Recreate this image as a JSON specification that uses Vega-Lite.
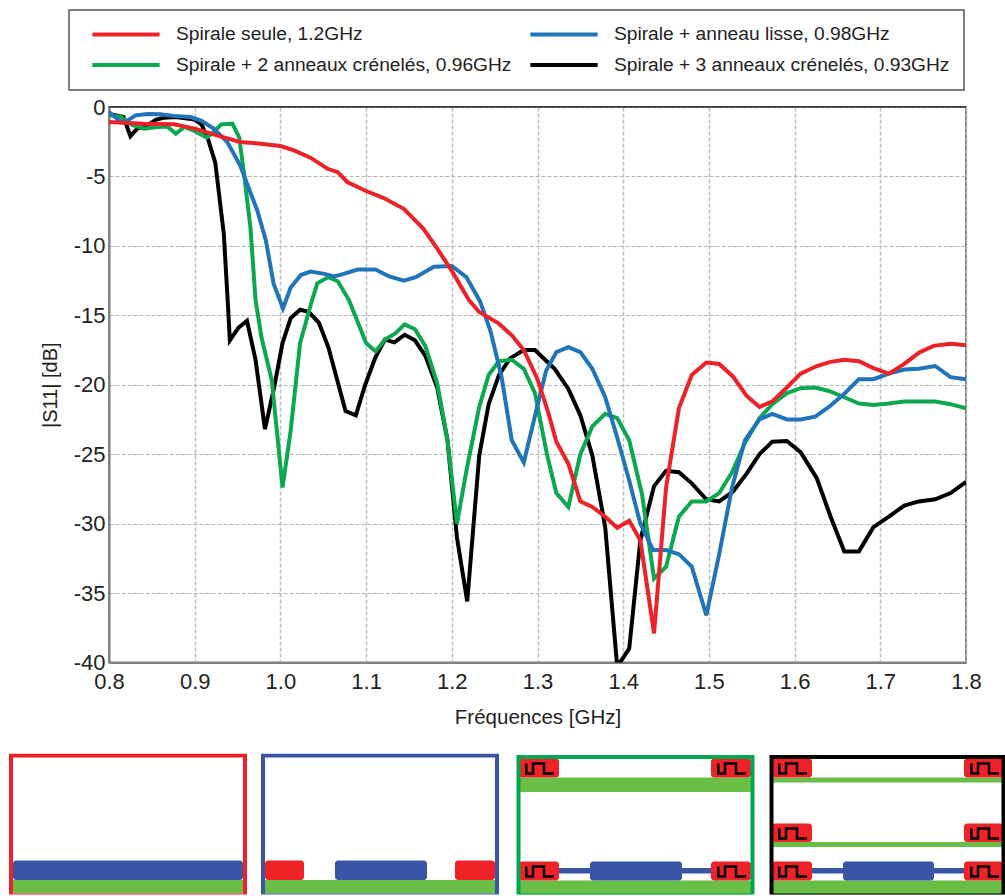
{
"$schema":"https://vega.github.io/schema/vega-lite/v6.json",
"padding":{"left":9,"top":9,"right":0,"bottom":0},
"bounds":"flush",
"spacing":646.5,
"config":{"view":{"stroke":null},"font":"Liberation Sans","legend":{"strokeWidth":1.5}},
"datasets":{
"curves":[
{"s":"K","f":0.8,"v":-0.5},{"s":"K","f":0.817,"v":-0.72},{"s":"K","f":0.825,"v":-2.1},{"s":"K","f":0.833,"v":-1.56},{"s":"K","f":0.843,"v":-1.4},{"s":"K","f":0.855,"v":-0.9},{"s":"K","f":0.864,"v":-0.77},{"s":"K","f":0.878,"v":-0.72},{"s":"K","f":0.9,"v":-0.9},{"s":"K","f":0.908,"v":-1.25},{"s":"K","f":0.916,"v":-2.4},{"s":"K","f":0.924,"v":-4},{"s":"K","f":0.934,"v":-9.15},{"s":"K","f":0.939,"v":-14.5},{"s":"K","f":0.941,"v":-16.8},{"s":"K","f":0.951,"v":-15.9},{"s":"K","f":0.961,"v":-15.4},{"s":"K","f":0.971,"v":-18.2},{"s":"K","f":0.982,"v":-23.2},{"s":"K","f":0.992,"v":-20.4},{"s":"K","f":1.0025,"v":-17},{"s":"K","f":1.012,"v":-15.2},{"s":"K","f":1.023,"v":-14.6},{"s":"K","f":1.033,"v":-14.75},{"s":"K","f":1.045,"v":-15.55},{"s":"K","f":1.056,"v":-17.3},{"s":"K","f":1.076,"v":-21.9},{"s":"K","f":1.088,"v":-22.2},{"s":"K","f":1.099,"v":-20},{"s":"K","f":1.111,"v":-18},{"s":"K","f":1.122,"v":-16.75},{"s":"K","f":1.133,"v":-16.95},{"s":"K","f":1.145,"v":-16.4},{"s":"K","f":1.157,"v":-16.8},{"s":"K","f":1.169,"v":-17.9},{"s":"K","f":1.183,"v":-20.2},{"s":"K","f":1.195,"v":-24},{"s":"K","f":1.206,"v":-31},{"s":"K","f":1.218,"v":-35.6},{"s":"K","f":1.232,"v":-25.1},{"s":"K","f":1.243,"v":-21.4},{"s":"K","f":1.255,"v":-19.3},{"s":"K","f":1.268,"v":-18.1},{"s":"K","f":1.284,"v":-17.5},{"s":"K","f":1.297,"v":-17.5},{"s":"K","f":1.32,"v":-18.85},{"s":"K","f":1.336,"v":-20.3},{"s":"K","f":1.35,"v":-22.2},{"s":"K","f":1.364,"v":-25.1},{"s":"K","f":1.379,"v":-30.25},{"s":"K","f":1.393,"v":-40.3},{"s":"K","f":1.407,"v":-39},{"s":"K","f":1.42,"v":-31.2},{"s":"K","f":1.436,"v":-27.3},{"s":"K","f":1.45,"v":-26.2},{"s":"K","f":1.465,"v":-26.3},{"s":"K","f":1.48,"v":-27.1},{"s":"K","f":1.497,"v":-28.25},{"s":"K","f":1.512,"v":-28.4},{"s":"K","f":1.528,"v":-27.7},{"s":"K","f":1.544,"v":-26.4},{"s":"K","f":1.559,"v":-25},{"s":"K","f":1.574,"v":-24.1},{"s":"K","f":1.591,"v":-24.05},{"s":"K","f":1.607,"v":-24.85},{"s":"K","f":1.626,"v":-26.75},{"s":"K","f":1.642,"v":-29.5},{"s":"K","f":1.658,"v":-32},{"s":"K","f":1.675,"v":-32},{"s":"K","f":1.692,"v":-30.25},{"s":"K","f":1.71,"v":-29.5},{"s":"K","f":1.728,"v":-28.7},{"s":"K","f":1.745,"v":-28.4},{"s":"K","f":1.764,"v":-28.25},{"s":"K","f":1.782,"v":-27.8},{"s":"K","f":1.8,"v":-27},
{"s":"G","f":0.8,"v":-0.6},{"s":"G","f":0.814,"v":-0.72},{"s":"G","f":0.827,"v":-1.3},{"s":"G","f":0.841,"v":-1.56},{"s":"G","f":0.856,"v":-1.44},{"s":"G","f":0.868,"v":-1.4},{"s":"G","f":0.878,"v":-1.92},{"s":"G","f":0.888,"v":-1.44},{"s":"G","f":0.9,"v":-1.73},{"s":"G","f":0.914,"v":-2.2},{"s":"G","f":0.922,"v":-1.8},{"s":"G","f":0.931,"v":-1.25},{"s":"G","f":0.944,"v":-1.2},{"s":"G","f":0.952,"v":-2.2},{"s":"G","f":0.958,"v":-5},{"s":"G","f":0.965,"v":-8.65},{"s":"G","f":0.971,"v":-13.9},{"s":"G","f":0.978,"v":-16.6},{"s":"G","f":0.99,"v":-19.7},{"s":"G","f":1.0025,"v":-27.4},{"s":"G","f":1.012,"v":-23.3},{"s":"G","f":1.023,"v":-17},{"s":"G","f":1.037,"v":-13.9},{"s":"G","f":1.043,"v":-12.7},{"s":"G","f":1.056,"v":-12.25},{"s":"G","f":1.067,"v":-12.55},{"s":"G","f":1.08,"v":-13.9},{"s":"G","f":1.1,"v":-17},{"s":"G","f":1.111,"v":-17.6},{"s":"G","f":1.122,"v":-16.75},{"s":"G","f":1.134,"v":-16.3},{"s":"G","f":1.145,"v":-15.65},{"s":"G","f":1.157,"v":-16},{"s":"G","f":1.169,"v":-17.2},{"s":"G","f":1.183,"v":-19.9},{"s":"G","f":1.195,"v":-24},{"s":"G","f":1.206,"v":-30},{"s":"G","f":1.218,"v":-25.9},{"s":"G","f":1.232,"v":-21.6},{"s":"G","f":1.243,"v":-19.3},{"s":"G","f":1.255,"v":-18.3},{"s":"G","f":1.27,"v":-18.2},{"s":"G","f":1.284,"v":-18.85},{"s":"G","f":1.297,"v":-20.6},{"s":"G","f":1.311,"v":-25},{"s":"G","f":1.322,"v":-27.8},{"s":"G","f":1.336,"v":-28.8},{"s":"G","f":1.35,"v":-25},{"s":"G","f":1.364,"v":-23},{"s":"G","f":1.379,"v":-22.1},{"s":"G","f":1.393,"v":-22.4},{"s":"G","f":1.407,"v":-24},{"s":"G","f":1.422,"v":-27.9},{"s":"G","f":1.436,"v":-33.95},{"s":"G","f":1.45,"v":-33.1},{"s":"G","f":1.465,"v":-29.5},{"s":"G","f":1.48,"v":-28.4},{"s":"G","f":1.497,"v":-28.4},{"s":"G","f":1.512,"v":-27.8},{"s":"G","f":1.527,"v":-26.3},{"s":"G","f":1.542,"v":-24.2},{"s":"G","f":1.559,"v":-22.4},{"s":"G","f":1.574,"v":-21.4},{"s":"G","f":1.591,"v":-20.6},{"s":"G","f":1.607,"v":-20.25},{"s":"G","f":1.624,"v":-20.2},{"s":"G","f":1.64,"v":-20.45},{"s":"G","f":1.658,"v":-20.9},{"s":"G","f":1.675,"v":-21.35},{"s":"G","f":1.692,"v":-21.45},{"s":"G","f":1.71,"v":-21.35},{"s":"G","f":1.728,"v":-21.2},{"s":"G","f":1.745,"v":-21.2},{"s":"G","f":1.764,"v":-21.2},{"s":"G","f":1.782,"v":-21.4},{"s":"G","f":1.8,"v":-21.7},
{"s":"B","f":0.8,"v":-0.36},{"s":"B","f":0.814,"v":-1.08},{"s":"B","f":0.821,"v":-1},{"s":"B","f":0.831,"v":-0.6},{"s":"B","f":0.845,"v":-0.5},{"s":"B","f":0.86,"v":-0.53},{"s":"B","f":0.876,"v":-0.65},{"s":"B","f":0.895,"v":-0.72},{"s":"B","f":0.908,"v":-1},{"s":"B","f":0.922,"v":-1.56},{"s":"B","f":0.938,"v":-2.52},{"s":"B","f":0.953,"v":-4.2},{"s":"B","f":0.973,"v":-7.45},{"s":"B","f":0.983,"v":-9.6},{"s":"B","f":0.992,"v":-12.7},{"s":"B","f":1.003,"v":-14.5},{"s":"B","f":1.012,"v":-13},{"s":"B","f":1.024,"v":-12.1},{"s":"B","f":1.035,"v":-11.85},{"s":"B","f":1.05,"v":-12},{"s":"B","f":1.063,"v":-12.2},{"s":"B","f":1.075,"v":-12},{"s":"B","f":1.09,"v":-11.7},{"s":"B","f":1.111,"v":-11.7},{"s":"B","f":1.127,"v":-12.2},{"s":"B","f":1.144,"v":-12.5},{"s":"B","f":1.158,"v":-12.25},{"s":"B","f":1.179,"v":-11.5},{"s":"B","f":1.2,"v":-11.45},{"s":"B","f":1.217,"v":-12.25},{"s":"B","f":1.233,"v":-14},{"s":"B","f":1.245,"v":-16.1},{"s":"B","f":1.258,"v":-19.4},{"s":"B","f":1.27,"v":-24},{"s":"B","f":1.284,"v":-25.6},{"s":"B","f":1.3,"v":-21.5},{"s":"B","f":1.31,"v":-19},{"s":"B","f":1.322,"v":-17.65},{"s":"B","f":1.336,"v":-17.3},{"s":"B","f":1.35,"v":-17.65},{"s":"B","f":1.364,"v":-18.85},{"s":"B","f":1.379,"v":-20.9},{"s":"B","f":1.393,"v":-23.8},{"s":"B","f":1.407,"v":-26.9},{"s":"B","f":1.42,"v":-30},{"s":"B","f":1.435,"v":-31.9},{"s":"B","f":1.45,"v":-31.9},{"s":"B","f":1.465,"v":-32.2},{"s":"B","f":1.48,"v":-33.1},{"s":"B","f":1.497,"v":-36.6},{"s":"B","f":1.512,"v":-32.2},{"s":"B","f":1.527,"v":-27.4},{"s":"B","f":1.542,"v":-24},{"s":"B","f":1.559,"v":-22.5},{"s":"B","f":1.574,"v":-22.1},{"s":"B","f":1.591,"v":-22.5},{"s":"B","f":1.607,"v":-22.5},{"s":"B","f":1.624,"v":-22.3},{"s":"B","f":1.64,"v":-21.6},{"s":"B","f":1.658,"v":-20.65},{"s":"B","f":1.675,"v":-19.6},{"s":"B","f":1.692,"v":-19.6},{"s":"B","f":1.71,"v":-19.2},{"s":"B","f":1.728,"v":-18.9},{"s":"B","f":1.745,"v":-18.85},{"s":"B","f":1.764,"v":-18.65},{"s":"B","f":1.782,"v":-19.45},{"s":"B","f":1.8,"v":-19.6},
{"s":"R","f":0.8,"v":-1.08},{"s":"R","f":0.84,"v":-1.2},{"s":"R","f":0.876,"v":-1.25},{"s":"R","f":0.9,"v":-1.56},{"s":"R","f":0.926,"v":-2.04},{"s":"R","f":0.953,"v":-2.52},{"s":"R","f":0.977,"v":-2.64},{"s":"R","f":1,"v":-2.81},{"s":"R","f":1.016,"v":-3.12},{"s":"R","f":1.035,"v":-3.65},{"s":"R","f":1.055,"v":-4.45},{"s":"R","f":1.067,"v":-4.69},{"s":"R","f":1.078,"v":-5.4},{"s":"R","f":1.1,"v":-6.05},{"s":"R","f":1.12,"v":-6.54},{"s":"R","f":1.144,"v":-7.33},{"s":"R","f":1.167,"v":-8.77},{"s":"R","f":1.183,"v":-10.2},{"s":"R","f":1.2,"v":-11.8},{"s":"R","f":1.22,"v":-13.9},{"s":"R","f":1.232,"v":-14.76},{"s":"R","f":1.255,"v":-15.6},{"s":"R","f":1.27,"v":-16.44},{"s":"R","f":1.284,"v":-17.5},{"s":"R","f":1.3,"v":-19.6},{"s":"R","f":1.313,"v":-22.1},{"s":"R","f":1.322,"v":-24.1},{"s":"R","f":1.336,"v":-25.7},{"s":"R","f":1.35,"v":-28.4},{"s":"R","f":1.364,"v":-28.8},{"s":"R","f":1.379,"v":-29.5},{"s":"R","f":1.393,"v":-30.3},{"s":"R","f":1.407,"v":-29.8},{"s":"R","f":1.42,"v":-31.2},{"s":"R","f":1.436,"v":-37.9},{"s":"R","f":1.45,"v":-27.4},{"s":"R","f":1.465,"v":-21.7},{"s":"R","f":1.48,"v":-19.3},{"s":"R","f":1.497,"v":-18.4},{"s":"R","f":1.512,"v":-18.5},{"s":"R","f":1.528,"v":-19.4},{"s":"R","f":1.544,"v":-20.8},{"s":"R","f":1.559,"v":-21.6},{"s":"R","f":1.574,"v":-21.2},{"s":"R","f":1.591,"v":-20.2},{"s":"R","f":1.607,"v":-19.2},{"s":"R","f":1.626,"v":-18.65},{"s":"R","f":1.642,"v":-18.35},{"s":"R","f":1.658,"v":-18.2},{"s":"R","f":1.675,"v":-18.3},{"s":"R","f":1.692,"v":-18.8},{"s":"R","f":1.71,"v":-19.2},{"s":"R","f":1.728,"v":-18.5},{"s":"R","f":1.745,"v":-17.7},{"s":"R","f":1.762,"v":-17.2},{"s":"R","f":1.782,"v":-17.05},{"s":"R","f":1.8,"v":-17.15}
],
"parts":[
{"part":"frame","panel":"a","x":11,"x2":245,"y":757,"y2":897},
{"part":"frame","panel":"b","x":263,"x2":497,"y":757,"y2":897},
{"part":"frame","panel":"c","x":518.5,"x2":752.5,"y":758.5,"y2":897},
{"part":"frame","panel":"d","x":771.5,"x2":1003.5,"y":758.5,"y2":897},
{"part":"ground","panel":"a","x":13,"x2":243,"y":881.5,"y2":895},
{"part":"ground","panel":"b","x":265,"x2":495,"y":881.5,"y2":895},
{"part":"ground","panel":"c","x":519,"x2":751,"y":882,"y2":896},
{"part":"ground","panel":"c","x":519,"x2":751,"y":779,"y2":793.5},
{"part":"ground","panel":"d","x":772,"x2":1003,"y":882,"y2":896},
{"part":"ground","panel":"d","x":772,"x2":1003,"y":843.5,"y2":848.5},
{"part":"ground","panel":"d","x":772,"x2":1003,"y":779,"y2":784},
{"part":"feed","panel":"c","x":559,"x2":711,"y":869.5,"y2":875},
{"part":"feed","panel":"d","x":812,"x2":964,"y":869.5,"y2":875},
{"part":"patch","panel":"a","x":13,"x2":243,"y":862,"y2":881.5},
{"part":"patch","panel":"b","x":335,"x2":427,"y":862,"y2":881.5},
{"part":"patch","panel":"c","x":590,"x2":682,"y":863,"y2":882},
{"part":"patch","panel":"d","x":843,"x2":934,"y":863,"y2":882},
{"part":"ring","panel":"b","x":265,"x2":304,"y":862,"y2":881.5},
{"part":"ring","panel":"b","x":455,"x2":495,"y":862,"y2":881.5},
{"part":"ring","panel":"c","x":519,"x2":559,"y":760,"y2":779},
{"part":"ring","panel":"c","x":711,"x2":751,"y":760,"y2":779},
{"part":"ring","panel":"c","x":519,"x2":559,"y":863,"y2":882},
{"part":"ring","panel":"c","x":711,"x2":751,"y":863,"y2":882},
{"part":"ring","panel":"d","x":772,"x2":812,"y":760,"y2":779},
{"part":"ring","panel":"d","x":964,"x2":1003,"y":760,"y2":779},
{"part":"ring","panel":"d","x":772,"x2":812,"y":825,"y2":843.5},
{"part":"ring","panel":"d","x":964,"x2":1003,"y":825,"y2":843.5},
{"part":"ring","panel":"d","x":772,"x2":812,"y":863,"y2":882},
{"part":"ring","panel":"d","x":964,"x2":1003,"y":863,"y2":882}
],
"meander":[
{"id":1,"o":1,"x":526.3,"y":765},{"id":1,"o":2,"x":526.3,"y":775},{"id":1,"o":3,"x":533,"y":775},{"id":1,"o":4,"x":533,"y":765},{"id":1,"o":5,"x":544,"y":765},{"id":1,"o":6,"x":544,"y":775},{"id":1,"o":7,"x":554,"y":775},
{"id":2,"o":1,"x":718.3,"y":765},{"id":2,"o":2,"x":718.3,"y":775},{"id":2,"o":3,"x":725,"y":775},{"id":2,"o":4,"x":725,"y":765},{"id":2,"o":5,"x":736,"y":765},{"id":2,"o":6,"x":736,"y":775},{"id":2,"o":7,"x":746,"y":775},
{"id":3,"o":1,"x":526.3,"y":868},{"id":3,"o":2,"x":526.3,"y":878},{"id":3,"o":3,"x":533,"y":878},{"id":3,"o":4,"x":533,"y":868},{"id":3,"o":5,"x":544,"y":868},{"id":3,"o":6,"x":544,"y":878},{"id":3,"o":7,"x":554,"y":878},
{"id":4,"o":1,"x":718.3,"y":868},{"id":4,"o":2,"x":718.3,"y":878},{"id":4,"o":3,"x":725,"y":878},{"id":4,"o":4,"x":725,"y":868},{"id":4,"o":5,"x":736,"y":868},{"id":4,"o":6,"x":736,"y":878},{"id":4,"o":7,"x":746,"y":878},
{"id":5,"o":1,"x":779.3,"y":765},{"id":5,"o":2,"x":779.3,"y":775},{"id":5,"o":3,"x":786,"y":775},{"id":5,"o":4,"x":786,"y":765},{"id":5,"o":5,"x":797,"y":765},{"id":5,"o":6,"x":797,"y":775},{"id":5,"o":7,"x":807,"y":775},
{"id":6,"o":1,"x":971.3,"y":765},{"id":6,"o":2,"x":971.3,"y":775},{"id":6,"o":3,"x":978,"y":775},{"id":6,"o":4,"x":978,"y":765},{"id":6,"o":5,"x":989,"y":765},{"id":6,"o":6,"x":989,"y":775},{"id":6,"o":7,"x":999,"y":775},
{"id":7,"o":1,"x":779.3,"y":830},{"id":7,"o":2,"x":779.3,"y":840},{"id":7,"o":3,"x":786,"y":840},{"id":7,"o":4,"x":786,"y":830},{"id":7,"o":5,"x":797,"y":830},{"id":7,"o":6,"x":797,"y":840},{"id":7,"o":7,"x":807,"y":840},
{"id":8,"o":1,"x":971.3,"y":830},{"id":8,"o":2,"x":971.3,"y":840},{"id":8,"o":3,"x":978,"y":840},{"id":8,"o":4,"x":978,"y":830},{"id":8,"o":5,"x":989,"y":830},{"id":8,"o":6,"x":989,"y":840},{"id":8,"o":7,"x":999,"y":840},
{"id":9,"o":1,"x":779.3,"y":868},{"id":9,"o":2,"x":779.3,"y":878},{"id":9,"o":3,"x":786,"y":878},{"id":9,"o":4,"x":786,"y":868},{"id":9,"o":5,"x":797,"y":868},{"id":9,"o":6,"x":797,"y":878},{"id":9,"o":7,"x":807,"y":878},
{"id":10,"o":1,"x":971.3,"y":868},{"id":10,"o":2,"x":971.3,"y":878},{"id":10,"o":3,"x":978,"y":878},{"id":10,"o":4,"x":978,"y":868},{"id":10,"o":5,"x":989,"y":868},{"id":10,"o":6,"x":989,"y":878},{"id":10,"o":7,"x":999,"y":878}
]
},
"vconcat":[
{"hconcat":[
{"width":99.5,"height":555.5,"data":{"values":[]},"mark":{"type":"rect"},"encoding":{}},
{"width":857,"height":555.5,
 "view":{"stroke":"#808080","strokeWidth":2},
 "layer":[
 {"data":{"name":"curves"},
  "transform":[{"lookup":"s","from":{"data":{"values":[{"s":"R","name":"Spirale seule, 1.2GHz"},{"s":"B","name":"Spirale + anneau lisse, 0.98GHz"},{"s":"G","name":"Spirale + 2 anneaux crénelés, 0.96GHz"},{"s":"K","name":"Spirale + 3 anneaux crénelés, 0.93GHz"}]},"key":"s","fields":["name"]}}],
  "mark":{"type":"line","strokeWidth":4,"clip":true},
  "encoding":{
   "x":{"field":"f","type":"quantitative","scale":{"domain":[0.8,1.8],"nice":false,"zero":false},
     "axis":{"title":"Fréquences [GHz]","values":[0.8,0.9,1.0,1.1,1.2,1.3,1.4,1.5,1.6,1.7,1.8],"format":".1f","labelFontSize":22,"titleFontSize":20.5,"titleFontWeight":"normal","titleColor":"#222","labelColor":"#222","ticks":false,"labelPadding":9,"titlePadding":15,"labelFlush":false,"labelOverlap":false,"grid":true,"gridColor":"#bdbdbd","gridDash":[4,2],"gridWidth":1.5,"domainColor":"#808080","domainWidth":2}},
   "y":{"field":"v","type":"quantitative","scale":{"domain":[-40,0],"nice":false,"zero":false},
     "axis":{"title":"|S11| [dB]","values":[0,-5,-10,-15,-20,-25,-30,-35,-40],"labelExpr":"'' + datum.value","labelFontSize":22,"titleFontSize":20,"titleFontWeight":"normal","titleColor":"#222","labelColor":"#222","ticks":false,"labelPadding":4,"titlePadding":13,"labelOverlap":false,"labelFlush":false,"grid":true,"gridColor":"#b5b5b5","gridDash":[4,2],"gridWidth":1,"domainColor":"#808080","domainWidth":2}},
   "detail":{"field":"s"},
   "color":{"field":"name","type":"nominal","scale":{"domain":["Spirale seule, 1.2GHz","Spirale + 2 anneaux crénelés, 0.96GHz","Spirale + anneau lisse, 0.98GHz","Spirale + 3 anneaux crénelés, 0.93GHz"],"range":["#ED2229","#0BA84F","#1F74BA","#000000"]},
     "legend":{"title":null,"orient":"none","legendX":60,"legendY":-97,"columns":2,"symbolType":"M-4.2,0H4.2","symbolSize":256,"symbolOffset":33,"symbolStrokeWidth":4,"labelFontSize":19.2,"labelColor":"#222","labelLimit":500,"labelOffset":40,"padding":14,"columnPadding":9,"rowPadding":10,"strokeColor":"#555555","fillColor":"#ffffff"}}
  }},
 {"data":{"values":[{"top":0}]},"mark":{"type":"rule","color":"#000000","strokeWidth":1},"encoding":{"y":{"field":"top","type":"quantitative"}}}
 ]}
],"spacing":0,"bounds":"flush"},
{"width":996,"height":141,
 "encoding":{
  "x":{"field":"x","type":"quantitative","scale":{"domain":[9,1005],"nice":false,"zero":false},"axis":null},
  "x2":{"field":"x2"},
  "y":{"field":"y","type":"quantitative","scale":{"domain":[755,896],"reverse":true,"nice":false,"zero":false},"axis":null},
  "y2":{"field":"y2"}
 },
 "layer":[
 {"data":{"name":"parts"},"transform":[{"filter":"datum.part==='ground'"}],"mark":{"type":"rect","fill":"#6ABD45"}},
 {"data":{"name":"parts"},"transform":[{"filter":"datum.part==='feed'"}],"mark":{"type":"rect","fill":"#3A55A5"}},
 {"data":{"name":"parts"},"transform":[{"filter":"datum.part==='patch'"}],"mark":{"type":"rect","fill":"#3A55A5","cornerRadius":3}},
 {"data":{"name":"parts"},"transform":[{"filter":"datum.part==='ring'"}],"mark":{"type":"rect","fill":"#EE2227","cornerRadius":3}},
 {"data":{"name":"meander"},"mark":{"type":"line","color":"#000000","strokeWidth":2.5,"clip":true},
  "encoding":{"x":{"field":"x","type":"quantitative"},"x2":null,"y":{"field":"y","type":"quantitative"},"y2":null,"detail":{"field":"id"},"order":{"field":"o"}}},
 {"data":{"name":"parts"},"transform":[{"filter":"datum.part==='frame'"}],"mark":{"type":"rect","filled":false,"clip":true},
  "encoding":{"stroke":{"field":"panel","type":"nominal","scale":{"domain":["a","b","c","d"],"range":["#ED2229","#3A55A5","#00A651","#000000"]},"legend":null},
   "strokeWidth":{"field":"panel","type":"nominal","scale":{"domain":["a","b","c","d"],"range":[4,4,3,3.5]},"legend":null}}}
 ]}
]
}
